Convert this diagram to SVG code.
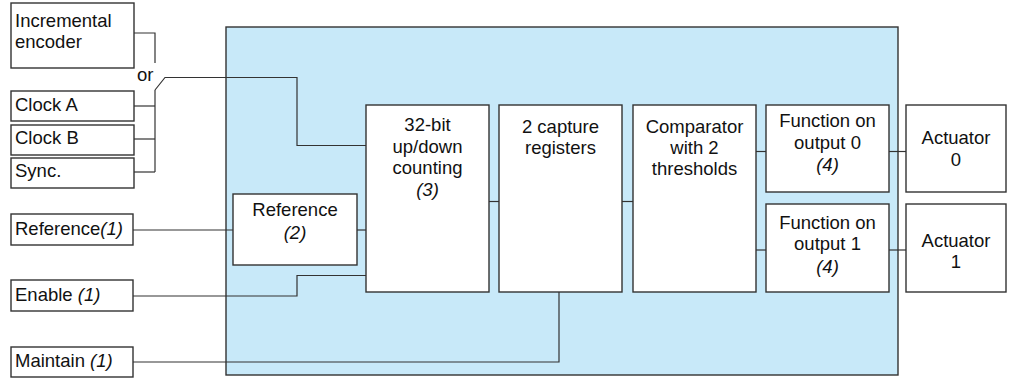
<svg xmlns="http://www.w3.org/2000/svg" width="1014" height="378" viewBox="0 0 1014 378">
<style>
.box{fill:#fff;stroke:#333;stroke-width:1.4}
.main{fill:#c8e9f9;stroke:#333;stroke-width:1.4}
.w{stroke:#333;stroke-width:1.2;fill:none}
text{font-family:"Liberation Sans",Arial,sans-serif;font-size:18.5px;fill:#111}
.c{text-anchor:middle}
.i{font-style:italic}
</style>
<rect width="1014" height="378" fill="#fff"/>
<g id="main"><rect class="main" x="226" y="27" width="672" height="348"/></g>
<g id="connectors">
<polyline class="w" points="134,33 155,33 155,63"/>
<polyline class="w" points="155,90 165,77.5 297,77.5 297,145.5 367,145.5"/>
<line class="w" x1="155" y1="90" x2="155" y2="172"/>
<line class="w" x1="134" y1="106" x2="155" y2="106"/>
<line class="w" x1="134" y1="139" x2="155" y2="139"/>
<line class="w" x1="134" y1="172" x2="155" y2="172"/>
<line class="w" x1="133" y1="230" x2="233" y2="230"/>
<line class="w" x1="357" y1="230" x2="367" y2="230"/>
<polyline class="w" points="133,296 297,296 297,275.5 367,275.5"/>
<polyline class="w" points="133,362 559,362 559,292"/>
<line class="w" x1="489" y1="201.5" x2="499" y2="201.5"/>
<line class="w" x1="622" y1="201.5" x2="633" y2="201.5"/>
<line class="w" x1="756" y1="151.5" x2="766" y2="151.5"/>
<line class="w" x1="756" y1="250" x2="766" y2="250"/>
<line class="w" x1="889" y1="151.5" x2="906" y2="151.5"/>
<line class="w" x1="889" y1="250" x2="906" y2="250"/>
</g>
<text x="137" y="81">or</text>
<g id="encoder"><rect class="box" x="11" y="3" width="123" height="65"/><text x="15" y="27">Incremental</text><text x="15" y="48">encoder</text></g>
<g id="clockA"><rect class="box" x="11" y="91" width="123" height="30"/><text x="15" y="111">Clock A</text></g>
<g id="clockB"><rect class="box" x="11" y="125" width="123" height="30"/><text x="15" y="144">Clock B</text></g>
<g id="sync"><rect class="box" x="11" y="158" width="123" height="30"/><text x="15" y="177">Sync.</text></g>
<g id="ref1"><rect class="box" x="11" y="214" width="122" height="31"/><text x="15" y="235">Reference<tspan class="i">(1)</tspan></text></g>
<g id="enable"><rect class="box" x="11" y="280" width="122" height="31"/><text x="15" y="301">Enable <tspan class="i">(1)</tspan></text></g>
<g id="maintain"><rect class="box" x="11" y="347" width="122" height="30"/><text x="15" y="367">Maintain <tspan class="i">(1)</tspan></text></g>
<g id="ref2"><rect class="box" x="233" y="194" width="124" height="71"/><text class="c" x="295" y="216">Reference</text><text class="c i" x="295" y="239">(2)</text></g>
<g id="counter"><rect class="box" x="366" y="105" width="123" height="187"/><text class="c" x="427.5" y="131">32-bit</text><text class="c" x="427.5" y="152.5">up/down</text><text class="c" x="427.5" y="174">counting</text><text class="c i" x="427.5" y="195.5">(3)</text></g>
<g id="capture"><rect class="box" x="499" y="105" width="123" height="187"/><text class="c" x="560.5" y="133">2 capture</text><text class="c" x="560.5" y="153.5">registers</text></g>
<g id="comparator"><rect class="box" x="633" y="105" width="123" height="187"/><text class="c" x="694.5" y="133">Comparator</text><text class="c" x="694.5" y="154">with 2</text><text class="c" x="694.5" y="175">thresholds</text></g>
<g id="func0"><rect class="box" x="766" y="105" width="123" height="87"/><text class="c" x="827.5" y="127">Function on</text><text class="c" x="827.5" y="148.5">output 0</text><text class="c i" x="827.5" y="171">(4)</text></g>
<g id="func1"><rect class="box" x="766" y="204" width="123" height="88"/><text class="c" x="827.5" y="228.5">Function on</text><text class="c" x="827.5" y="250">output 1</text><text class="c i" x="827.5" y="273">(4)</text></g>
<g id="act0"><rect class="box" x="906" y="105" width="100" height="87"/><text class="c" x="956" y="144">Actuator</text><text class="c" x="956" y="165.5">0</text></g>
<g id="act1"><rect class="box" x="906" y="204" width="100" height="88"/><text class="c" x="956" y="247">Actuator</text><text class="c" x="956" y="268">1</text></g>
</svg>
